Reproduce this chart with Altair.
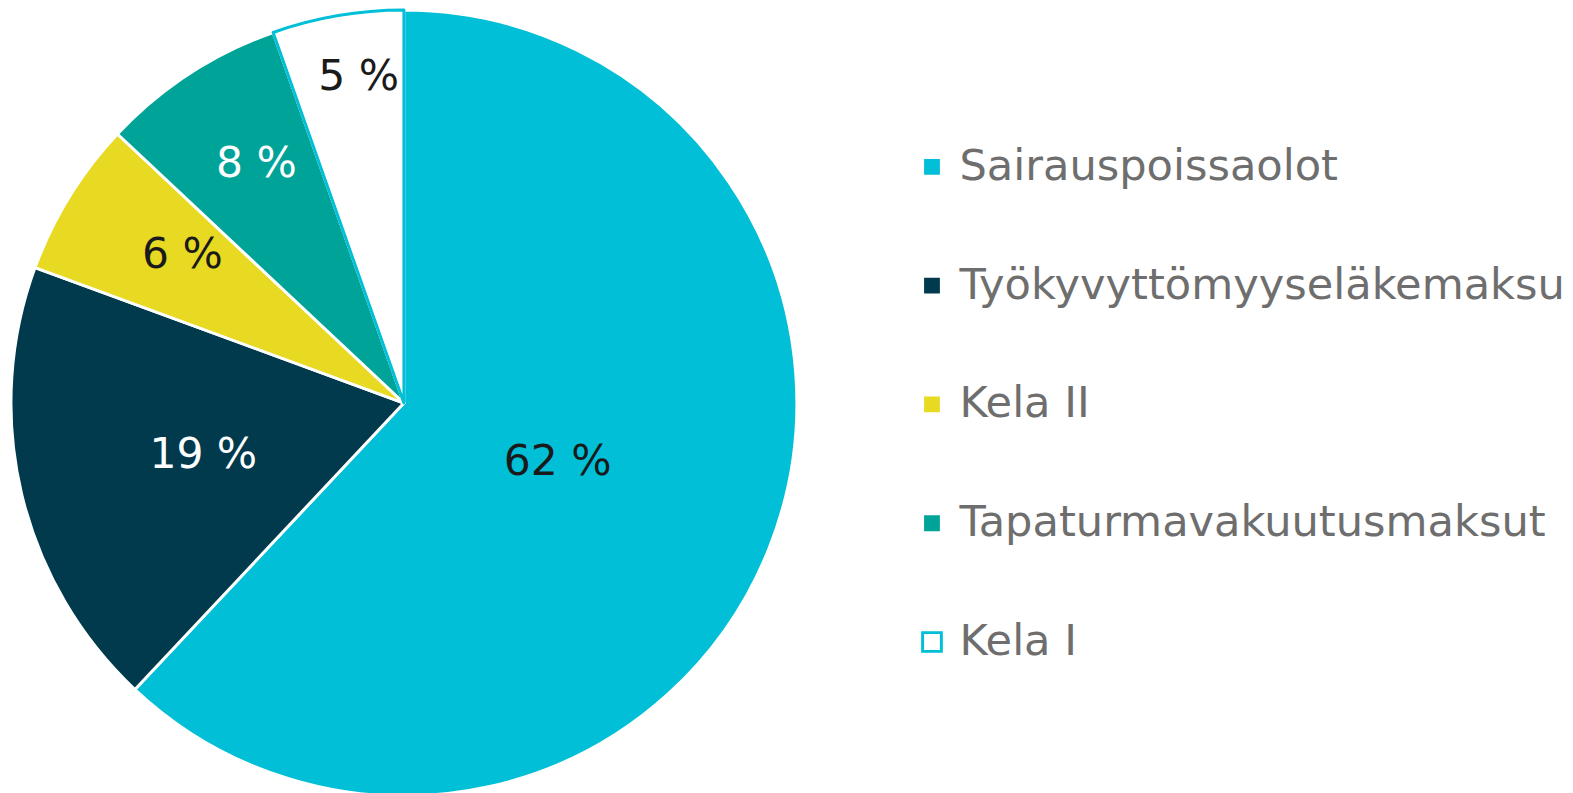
import altair as alt
import pandas as pd

# ---- data ----
categories = ["Sairauspoissaolot", "Työkyvyttömyyseläkemaksu", "Kela II",
              "Tapaturmavakuutusmaksut", "Kela I"]
shares = [62.0, 18.6, 6.4, 7.6, 5.4]
labels = ["62 %", "19 %", "6 %", "8 %", "5 %"]

# ---- styling / label placement ----
fill_colors = ["#00BFD6", "#003A4C", "#E8D922", "#00A398", "#FFFFFF"]
edge_colors = ["#FFFFFF", "#FFFFFF", "#FFFFFF", "#FFFFFF", "#00BFD6"]
light_label_categories = ["Työkyvyttömyyseläkemaksu", "Tapaturmavakuutusmaksut"]
label_radius = [167, 210, 270, 284, 333]
label_angle_nudge = [-0.4, -1.3, 2.1, 1.4, 1.8]  # degrees

df = pd.DataFrame({
    "category": categories,
    "share": shares,
    "label": labels,
    "order": list(range(len(categories))),
    "lr": label_radius,
    "nudge": label_angle_nudge,
})

legend = alt.Legend(
    title=None, orient="none", legendX=914, legendY=133,
    symbolType="square", symbolSize=361, symbolStrokeWidth=3,
    labelFont="DejaVu Sans", labelFontSize=43.7, labelColor="#6E6E6E",
    labelOffset=6, rowPadding=75.3, labelLimit=0,
)

arcs = alt.Chart(df).mark_arc(
    outerRadius=398, strokeWidth=3, strokeJoin="round"
).encode(
    theta=alt.Theta("share:Q", stack=True),
    order=alt.Order("order:Q"),
    color=alt.Color("category:N", sort=categories,
                    scale=alt.Scale(domain=categories, range=fill_colors),
                    legend=legend),
    stroke=alt.Stroke("category:N", sort=categories,
                      scale=alt.Scale(domain=categories, range=edge_colors),
                      legend=legend),
)

texts = alt.Chart(df).transform_window(
    cum="sum(share)", sort=[alt.SortField("order", order="ascending")],
    frame=[None, 0]
).transform_joinaggregate(
    total="sum(share)"
).transform_calculate(
    mid="(datum.cum - datum.share / 2) / datum.total * 2 * PI + datum.nudge * PI / 180"
).mark_text(
    font="DejaVu Sans", fontSize=43, baseline="middle", align="center"
).encode(
    theta=alt.Theta("mid:Q", scale=None),
    radius=alt.Radius("lr:Q", scale=None),
    text=alt.Text("label:N"),
    fill=alt.condition(
        alt.FieldOneOfPredicate(field="category", oneOf=light_label_categories),
        alt.value("#FFFFFF"), alt.value("#1A1A1A")),
)

chart = alt.layer(arcs, texts).resolve_scale(
    theta="independent"
).properties(
    width=802, height=788,
    padding={"left": 0, "right": 0, "top": -5, "bottom": 0},
).configure_view(stroke=None)

chart.save("out.html", embed_options={"renderer": "svg", "actions": False})
